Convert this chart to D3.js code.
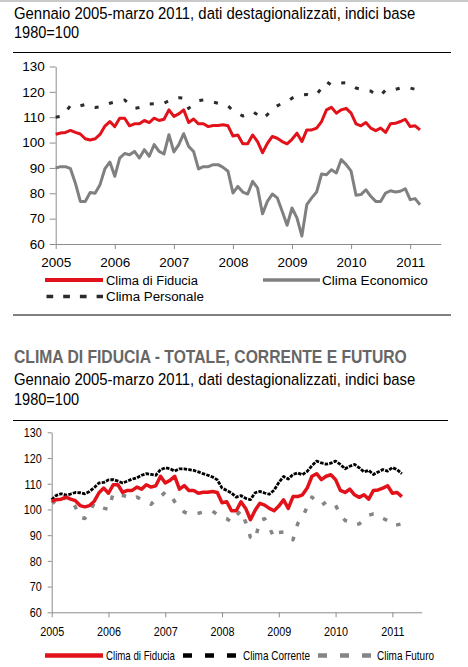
<!DOCTYPE html>
<html>
<head>
<meta charset="utf-8">
<script src="https://cdn.jsdelivr.net/npm/d3@7"></script>
<style>
  body { margin: 0; background: #fff; }
  svg { display: block; }
  text { font-family: "Liberation Sans", Arial, sans-serif; }
</style>
</head>
<body>
<svg id="page" width="468" height="667"></svg>
<script>
// month index 0 = Jan 2005 ... 74 = Mar 2011
const years = ["2005", "2006", "2007", "2008", "2009", "2010", "2011"];
const yTicks = [60, 70, 80, 90, 100, 110, 120, 130];

const climaFiducia = [
  103.3, 103.8, 104.0, 104.8, 104.0, 103.4, 101.5, 101.0, 101.5, 103.2, 106.5, 108.3,
  106.3, 109.6, 109.6, 106.6, 107.4, 107.4, 108.7, 107.9, 109.6, 108.7, 109.2, 112.9,
  110.3, 111.3, 112.9, 107.9, 109.3, 107.4, 107.4, 106.3, 106.7, 106.7, 107.0, 106.6,
  102.6, 103.0, 99.5, 99.5, 103.0, 100.4, 96.0, 99.7, 102.4, 101.7, 100.4, 99.5,
  101.3, 103.7, 100.4, 105.0, 105.0, 105.7, 108.3, 112.9, 113.9, 111.6, 112.9, 113.5,
  111.6, 107.4, 106.6, 107.9, 105.7, 104.7, 105.7, 104.0, 107.4, 107.6, 108.3, 109.2,
  106.3, 106.6, 105.0
];

const climaEconomico = [
  90.0, 90.5, 90.5, 89.7, 84.0, 76.8, 76.8, 80.3, 80.0, 83.4, 89.7, 92.3,
  86.7, 93.9, 95.7, 95.2, 96.5, 93.9, 97.2, 94.6, 99.2, 96.5, 95.5, 103.1,
  96.3, 99.2, 103.5, 98.5, 96.5, 89.6, 90.5, 90.5, 91.3, 91.3, 90.2, 88.7,
  80.1, 82.7, 80.5, 79.7, 84.7, 82.1, 71.9, 76.8, 79.7, 78.2, 72.9, 67.4,
  74.2, 70.3, 63.1, 75.5, 78.2, 80.5, 87.6, 87.3, 89.3, 88.0, 93.3, 91.3,
  88.7, 79.2, 79.5, 81.4, 78.8, 76.8, 76.8, 80.1, 81.0, 80.5, 80.8, 81.8,
  77.5, 77.9, 75.5
];

const climaPersonale = [
  110.0, 110.3, 112.0, 114.6, 115.0, 114.5, 115.0, 114.0, 113.8, 114.1, 115.0, 115.5,
  116.0, 116.5, 116.8, 115.0, 113.5, 113.8, 114.5, 115.2, 115.3, 115.0, 115.5, 116.5,
  117.5, 117.7, 117.5, 113.5, 115.0, 116.5, 116.8, 116.5, 116.0, 115.5, 114.8, 114.5,
  112.5, 111.5, 110.5, 111.0, 112.2, 111.0, 109.4, 111.0, 113.5, 114.5, 115.5, 116.2,
  117.5, 118.5, 118.8, 119.0, 118.5, 119.0, 121.5, 124.0, 122.7, 123.0, 123.5, 123.6,
  122.5, 121.5, 121.0, 120.5, 120.3, 119.0, 118.5, 120.7, 120.7, 121.0, 121.5, 121.8,
  121.5, 121.0, 120.1
];

const climaCorrente = [
  103.8, 105.5, 106.1, 105.6, 106.0, 106.6, 106.5, 106.1, 107.0, 108.5, 110.3, 110.5,
  111.5, 111.6, 111.0, 110.3, 111.0, 111.8, 112.3, 113.3, 113.9, 113.6, 113.3, 115.5,
  116.2, 115.8, 114.9, 115.8, 115.8, 115.5, 115.2, 114.6, 113.9, 113.3, 112.6, 111.5,
  108.3, 107.4, 106.4, 104.8, 105.4, 104.3, 103.8, 106.5, 107.0, 106.4, 105.9, 107.5,
  110.5, 112.8, 111.8, 113.6, 114.2, 113.5, 114.8, 117.0, 118.8, 118.1, 117.6, 118.0,
  118.8, 117.5, 115.8, 116.8, 117.5, 116.2, 114.6, 115.2, 113.6, 114.6, 115.5, 114.9,
  116.3, 115.5, 113.9
];

const climaFuturo = [
  103.5, 101.8, 103.0, 104.8, 104.0, 101.0, 97.0, 96.5, 99.0, 102.5, 101.2, 100.5,
  100.0, 106.2, 105.5, 105.4, 105.0, 104.0, 104.8, 103.8, 103.0, 102.0, 104.0, 105.0,
  106.7, 106.0, 103.0, 100.9, 99.0, 98.3, 98.1, 98.5, 99.0, 99.0, 99.4, 98.0,
  97.0, 96.4, 95.1, 97.5, 99.6, 95.0, 89.2, 88.2, 95.7, 96.4, 93.0, 89.0,
  91.0, 91.2, 89.9, 88.2, 94.5, 97.0, 101.0, 104.8, 103.0, 101.6, 102.9, 103.0,
  101.6, 98.0, 95.7, 95.1, 94.0, 94.4, 96.0, 97.7, 98.3, 98.0, 96.5, 95.7,
  93.8, 94.0, 94.4
];

const subtitle = "Gennaio 2005-marzo 2011, dati destagionalizzati, indici base";
const subtitle2 = "1980=100";
const title2 = "CLIMA DI FIDUCIA - TOTALE, CORRENTE E FUTURO";

const svg = d3.select("#page");

// thin grey strip at the very top (rest of the page header)
svg.append("rect").attr("x", 0).attr("y", 0).attr("width", 468).attr("height", 2).attr("fill", "#c9c9c9");

function rule(y, x2)
{
  svg.append("line")
    .attr("x1", 13).attr("x2", x2)
    .attr("y1", y).attr("y2", y)
    .attr("stroke", "#000").attr("stroke-width", 1);
}

// the original uses a narrow face: draw in Liberation Sans and squeeze to the measured width
function label(parent, str, x, y, size, width, bold)
{
  const t = parent.append("text")
    .style("font-size", size)
    .style("font-weight", bold ? "bold" : null)
    .text(str);
  const natural = t.node().getComputedTextLength();
  t.attr("transform", `translate(${ x }, ${ y }) scale(${ width / natural }, 1)`);
  return t;
}

function drawChart(g, opt)
{
  const x = d3.scaleLinear().domain([0, 78.2]).range([opt.left, opt.right]);
  const y = d3.scaleLinear().domain([60, 130]).range([opt.bottom, opt.top]);

  const xAxis = d3.axisBottom(x)
    .tickValues(years.map((d, i) => i * 12))
    .tickFormat((d, i) => years[i])
    .tickSize(5)
    .tickSizeOuter(0)
    .tickPadding(opt.xPad);

  const yAxis = d3.axisLeft(y)
    .tickValues(yTicks)
    .tickSize(opt.yTick)
    .tickSizeOuter(0)
    .tickPadding(opt.yPad);

  const gx = g.append("g")
    .attr("transform", `translate(0, ${ opt.bottom })`)
    .call(xAxis);
  const gy = g.append("g")
    .attr("transform", `translate(${ opt.left }, 0)`)
    .call(yAxis);

  [gx, gy].forEach(a =>
  {
    a.select(".domain").attr("stroke", "#8c8c8c");
    a.selectAll(".tick line").attr("stroke", "#8c8c8c");
    a.selectAll(".tick text")
      .attr("fill", "#000")
      .style("font-family", "'Liberation Sans', Arial, sans-serif")
      .style("font-size", opt.tickFont);
  });

  if (opt.squeeze < 1)
  {
    gx.selectAll(".tick text").attr("transform", `scale(${ opt.squeeze }, 1)`);
    gy.selectAll(".tick text")
      .attr("x", -(opt.yTick + opt.yPad) / opt.squeeze)
      .attr("transform", `scale(${ opt.squeeze }, 1)`);
  }

  const line = d3.line()
    .x((d, i) => x(i))
    .y(d => y(d));

  opt.series.forEach(s =>
  {
    g.append("path")
      .datum(s.values)
      .attr("fill", "none")
      .attr("stroke", s.color)
      .attr("stroke-width", s.width)
      .attr("stroke-dasharray", s.dash || null)
      .attr("stroke-linejoin", "round")
      .attr("d", line);
  });
}

// ---------- chart 1 ----------
label(svg, subtitle, 14, 18.5, "16.3px", 401);
label(svg, subtitle2, 14, 37.5, "16.3px", 65);
rule(52.5, 451);

const chart1 = svg.append("g");
drawChart(chart1, {
  left: 55.7, right: 440.7, top: 66.5, bottom: 244,
  xPad: 8, yTick: 6, yPad: 5, tickFont: "13.5px", squeeze: 1,
  series: [
    { values: climaPersonale, color: "#2b2b2b", width: 3, dash: "4,11" },
    { values: climaEconomico, color: "#808080", width: 3 },
    { values: climaFiducia, color: "#e2121b", width: 3 }
  ]
});

// legend 1
const leg1 = svg.append("g");
leg1.append("line").attr("x1", 45).attr("x2", 103).attr("y1", 280).attr("y2", 280)
  .attr("stroke", "#e2121b").attr("stroke-width", 4);
label(leg1, "Clima di Fiducia", 106, 284.5, "13.5px", 92);
leg1.append("line").attr("x1", 263).attr("x2", 320).attr("y1", 280).attr("y2", 280)
  .attr("stroke", "#808080").attr("stroke-width", 3.5);
label(leg1, "Clima Economico", 322, 284.5, "13.5px", 106);
leg1.append("line").attr("x1", 46.5).attr("x2", 103).attr("y1", 296.5).attr("y2", 296.5)
  .attr("stroke", "#2b2b2b").attr("stroke-width", 3.3).attr("stroke-dasharray", "6.7,10");
label(leg1, "Clima Personale", 106, 301, "13.5px", 98);

rule(315, 451);

// ---------- chart 2 ----------
label(svg, title2, 14, 363, "18.5px", 393, true).attr("fill", "#666");
label(svg, subtitle, 14, 384.5, "16.3px", 401);
label(svg, subtitle2, 14, 405, "16.3px", 65);
rule(420.5, 448);

const chart2 = svg.append("g");
drawChart(chart2, {
  left: 51.7, right: 421.7, top: 432.3, bottom: 612.3,
  xPad: 9, yTick: 4, yPad: 6, tickFont: "13.5px", squeeze: 0.8,
  series: [
    { values: climaFuturo, color: "#858585", width: 3.5, dash: "4.5,11" },
    { values: climaCorrente, color: "#000", width: 2.8, dash: "3.5,1.2" },
    { values: climaFiducia, color: "#e2121b", width: 3.5 }
  ]
});

// legend 2
const leg2 = svg.append("g");
leg2.append("line").attr("x1", 45).attr("x2", 103).attr("y1", 655.5).attr("y2", 655.5)
  .attr("stroke", "#e2121b").attr("stroke-width", 4.5);
label(leg2, "Clima di Fiducia", 106, 660, "12.5px", 69);
leg2.append("line").attr("x1", 183).attr("x2", 237).attr("y1", 655.5).attr("y2", 655.5)
  .attr("stroke", "#000").attr("stroke-width", 4.5).attr("stroke-dasharray", "9,13");
label(leg2, "Clima Corrente", 243, 660, "12.5px", 67);
leg2.append("line").attr("x1", 318).attr("x2", 371).attr("y1", 655.5).attr("y2", 655.5)
  .attr("stroke", "#858585").attr("stroke-width", 4.5).attr("stroke-dasharray", "9,13");
label(leg2, "Clima Futuro", 377, 660, "12.5px", 57);
</script>
</body>
</html>
